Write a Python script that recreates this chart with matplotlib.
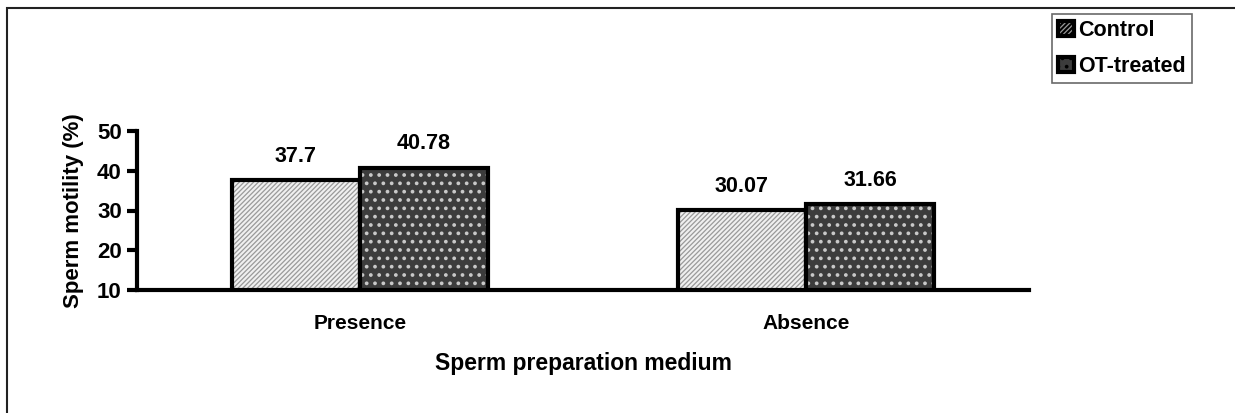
import matplotlib
matplotlib.use('Agg')
import matplotlib.pyplot as plt
from matplotlib.patches import Rectangle
import numpy as np

plt.rcParams['font.family'] = ['Liberation Sans', 'DejaVu Sans']
plt.rcParams['font.weight'] = 'bold'
plt.rcParams['hatch.linewidth'] = 1.5

categories = ['Presence', 'Absence']
control = [37.7, 30.07]
ot_treated = [40.78, 31.66]
control_labels = ['37.7', '30.07']
ot_labels = ['40.78', '31.66']
yticks = [10, 20, 30, 40, 50]

W, H = 1235, 413
fig = plt.figure(figsize=(W / 100, H / 100), dpi=100)

# outer frame of the chart area
fig.patches.append(Rectangle((7 / W, -0.01), 1.0, 1 - 8 / H + 0.01, transform=fig.transFigure,
                             fill=False, edgecolor='#222222', linewidth=1.5))

ax = fig.add_axes([137 / W, 1 - 290 / H, (1029 - 137) / W, (290 - 131) / H])
x = np.arange(len(categories))
bw = 0.287
ax.bar(x - bw / 2, control, bw, color='#9a9a9a', hatch='///////',
       edgecolor='#f0f0f0', linewidth=0, label='Control')
ax.bar(x - bw / 2, control, bw, color='none', edgecolor='black', linewidth=3)
ax.bar(x + bw / 2, ot_treated, bw, color='#3c3c3c', hatch='..',
       edgecolor='#c8c8c8', linewidth=0, label='OT-treated')
ax.bar(x + bw / 2, ot_treated, bw, color='none', edgecolor='black', linewidth=3)

for xi, v, t in zip(x, control, control_labels):
    ax.text(xi - bw / 2, v + 6, t, ha='center', va='center', fontsize=15.5, fontweight='bold')
for xi, v, t in zip(x, ot_treated, ot_labels):
    ax.text(xi + bw / 2, v + 6, t, ha='center', va='center', fontsize=15.5, fontweight='bold')

ax.set_ylim(10, 50)
ax.set_xlim(-0.5, 1.5)
ax.set_yticks(yticks)
ax.set_xticks(x)
ax.set_xticklabels(categories)
ax.tick_params(axis='y', length=7, width=3, labelsize=16, pad=4)
ax.tick_params(axis='x', length=0, labelsize=15, pad=17)
for s in ['top', 'right']:
    ax.spines[s].set_visible(False)
ax.spines['left'].set_linewidth(3)
ax.spines['bottom'].set_linewidth(3)
ax.set_ylabel('Sperm motility (%)', fontsize=16, fontweight='bold', labelpad=9)
ax.set_xlabel('Sperm preparation medium', fontsize=16.5, fontweight='bold', labelpad=14)
ax.patch.set_visible(False)

leg = fig.legend(loc='upper left', bbox_to_anchor=(1052 / W, 1 - 14 / H), fontsize=15.5,
                 frameon=True, fancybox=False, edgecolor='#444444', handlelength=0.75,
                 handleheight=0.75, handletextpad=0.2, borderpad=0.28, labelspacing=0.7,
                 borderaxespad=0)
leg.get_frame().set_linewidth(1.2)
for h in leg.legend_handles:
    h.set_edgecolor('black')
    h.set_linewidth(3)

fig.savefig('out.png', dpi=100)
